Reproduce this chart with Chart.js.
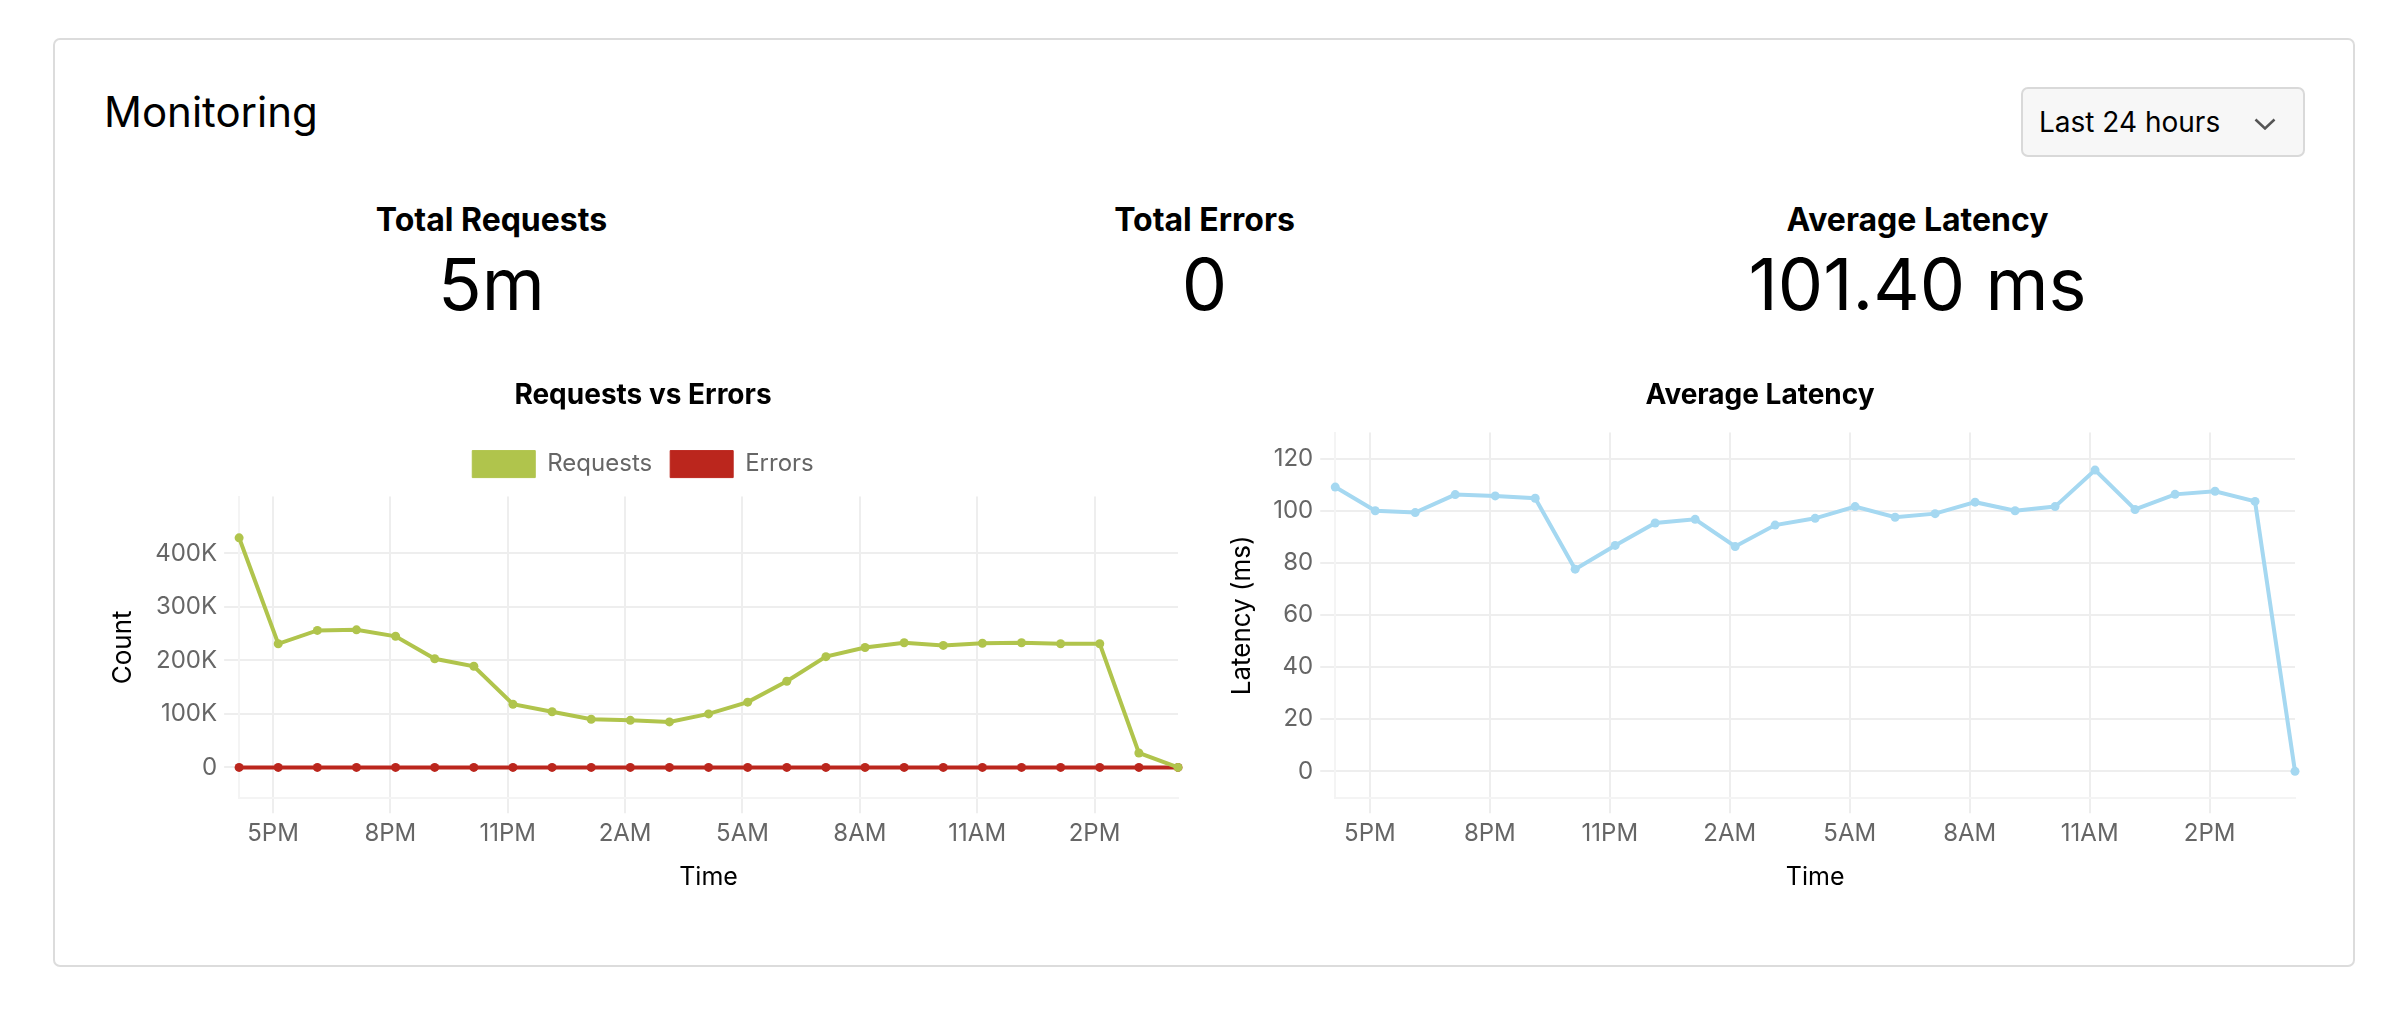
<!DOCTYPE html>
<html>
<head>
<meta charset="utf-8">
<title>Monitoring</title>
<script src="https://cdn.jsdelivr.net/npm/chart.js@4.4.0/dist/chart.umd.min.js"></script>
<style>
  body { margin: 0; width: 2406px; height: 1010px; background: #fff; color: #000;
         font-family: Inter, "Noto Sans", sans-serif; position: relative; overflow: hidden; }
  .card { position: absolute; left: 53px; top: 38px; width: 2302px; height: 929px;
          box-sizing: border-box; border: 2px solid #dcdcdc; border-radius: 7px; }
  h1 { position: absolute; left: 104px; top: 91px; margin: 0; font-size: 42px; font-weight: 400; line-height: 1; }
  .select { position: absolute; left: 2021px; top: 87px; width: 284px; height: 70px; box-sizing: border-box;
            border: 2px solid #d9d9d9; border-radius: 7px; background: #f7f7f7; font-size: 28px;
            display: flex; align-items: center; padding-left: 16px; }
  .select svg { position: absolute; left: 231px; top: 29px; }
  .stat-label, .stat-value { position: absolute; width: 713px; text-align: center; line-height: 1; }
  .stat-label { top: 204px; font-size: 32px; font-weight: 700; }
  .stat-value { top: 248px; font-size: 72px; font-weight: 400; }
  canvas { position: absolute; top: 360px; }
</style>
</head>
<body>
<div class="card"></div>
<h1>Monitoring</h1>
<div class="select">Last 24 hours
  <svg width="22" height="12" viewBox="0 0 22 12"><polyline points="1.5,1.5 11,10.5 20.5,1.5" fill="none" stroke="#555" stroke-width="2.5"/></svg>
</div>

<div class="stat-label" style="left:135px">Total Requests</div>
<div class="stat-value" style="left:135px">5m</div>
<div class="stat-label" style="left:848px">Total Errors</div>
<div class="stat-value" style="left:848px">0</div>
<div class="stat-label" style="left:1561px">Average Latency</div>
<div class="stat-value" style="left:1561px">101.40 ms</div>

<canvas id="reqChart" width="1076" height="540" style="left:108px"></canvas>
<canvas id="latChart" width="1080" height="540" style="left:1225px"></canvas>

<script>
// hourly buckets, 4:08 PM yesterday -> 4:08 PM today
const times = ['16:08','17:08','18:08','19:08','20:08','21:08','22:08','23:08','00:08','01:08',
               '02:08','03:08','04:08','05:08','06:08','07:08','08:08','09:08','10:08','11:08',
               '12:08','13:08','14:08','15:08','16:08'];

const requests = [429000, 231000, 256000, 257000, 245000, 203000, 189000, 118000, 104000, 90000,
                  88000, 85000, 100000, 122000, 161000, 207000, 224000, 233000, 228000, 232000,
                  233000, 231000, 231000, 27000, 0];
const errors = [0, 0, 0, 0, 0, 0, 0, 0, 0, 0, 0, 0, 0, 0, 0, 0, 0, 0, 0, 0, 0, 0, 0, 0, 0];
const latency = [109.1, 100.0, 99.3, 106.2, 105.7, 104.8, 77.6, 86.7, 95.3, 96.7,
                 86.3, 94.5, 97.1, 101.6, 97.5, 98.9, 103.3, 100.0, 101.6, 115.6,
                 100.5, 106.3, 107.5, 103.6, 0];

const tickHours = [17, 20, 23, 26, 29, 32, 35, 38];
const tickLabels = ['5PM', '8PM', '11PM', '2AM', '5AM', '8AM', '11AM', '2PM'];
const countTicks = [0, 100000, 200000, 300000, 400000];
const countLabels = ['0', '100K', '200K', '300K', '400K'];
const latencyTicks = [0, 20, 40, 60, 80, 100, 120];

// turn clock times into hours since midnight of the first day
let dayOffset = 0, prev = -1;
const hours = times.map(t => {
  const [h, m] = t.split(':').map(Number);
  let v = h + m / 60;
  if (v < prev) dayOffset = 24;
  prev = v;
  return v + dayOffset;
});
const pts = arr => arr.map((v, i) => ({ x: hours[i], y: v }));

Chart.defaults.font.family = 'Inter, "Noto Sans", sans-serif';
Chart.defaults.animation = false;

const gridColor = '#eeeeee';
const borderColor = '#f4f4f4';

function xAxis() {
  return {
    type: 'linear',
    min: hours[0],
    max: hours[hours.length - 1],
    afterBuildTicks: s => { s.ticks = tickHours.map(v => ({ value: v })); },
    ticks: { callback: (v, i) => tickLabels[i], color: '#666', font: { size: 24 }, padding: 6,
             maxRotation: 0, autoSkip: false },
    grid: { color: gridColor, lineWidth: 2, tickLength: 15 },
    border: { color: borderColor, width: 2 },
    title: { display: true, text: 'Time', color: '#000', font: { size: 25 }, padding: { top: 8, bottom: 8 } }
  };
}

function yAxis(min, max, ticks, labels, title, pad) {
  return {
    min: min,
    max: max,
    afterBuildTicks: s => { s.ticks = ticks.map(v => ({ value: v })); },
    ticks: { callback: (v, i) => labels[i], color: '#666', font: { size: 24 }, padding: 7 },
    grid: { color: gridColor, lineWidth: 2, tickLength: 15 },
    border: { color: borderColor, width: 2 },
    title: { display: true, text: title, color: '#000', font: { size: 26 }, padding: pad }
  };
}

function chartTitle(text) {
  return { display: true, text: text, color: '#000', font: { size: 28, weight: 'bold' },
           padding: { top: 19, bottom: 20 } };
}

// a little extra room under the legend
const legendGap = {
  id: 'legendGap',
  beforeInit(chart) {
    const fit = chart.legend.fit;
    chart.legend.fit = function () { fit.bind(chart.legend)(); this.height += 9; };
  }
};

new Chart(document.getElementById('reqChart'), {
  type: 'line',
  data: {
    datasets: [{
      label: 'Requests',
      data: pts(requests),
      borderColor: '#b0c44c',
      backgroundColor: '#b0c44c',
      borderWidth: 4,
      pointRadius: 4.5,
      pointBorderWidth: 0,
      tension: 0,
      clip: false
    }, {
      label: 'Errors',
      data: pts(errors),
      borderColor: '#bb261d',
      backgroundColor: '#bb261d',
      borderWidth: 4,
      pointRadius: 4.5,
      pointBorderWidth: 0,
      tension: 0,
      clip: false
    }]
  },
  options: {
    responsive: false,
    layout: { padding: { right: 6 } },
    plugins: {
      title: chartTitle('Requests vs Errors'),
      legend: {
        labels: {
          boxWidth: 63, boxHeight: 27, color: '#666', font: { size: 24 }, padding: 18,
          generateLabels: chart => Chart.defaults.plugins.legend.labels.generateLabels(chart)
            .map(l => Object.assign(l, { lineWidth: 1 }))
        }
      },
      tooltip: { enabled: false }
    },
    scales: {
      x: xAxis(),
      y: yAxis(-57500, 506000, countTicks, countLabels, 'Count', { top: 0, bottom: 9 })
    }
  },
  plugins: [legendGap]
});

new Chart(document.getElementById('latChart'), {
  type: 'line',
  data: {
    datasets: [{
      label: 'Latency',
      data: pts(latency),
      borderColor: '#a5d8f1',
      backgroundColor: '#a5d8f1',
      borderWidth: 4,
      pointRadius: 4.5,
      pointBorderWidth: 0,
      tension: 0,
      clip: false
    }]
  },
  options: {
    responsive: false,
    layout: { padding: { right: 10 } },
    plugins: {
      title: chartTitle('Average Latency'),
      legend: { display: false },
      tooltip: { enabled: false }
    },
    scales: {
      x: xAxis(),
      y: yAxis(-10.3, 130, latencyTicks, latencyTicks.map(String), 'Latency (ms)', { top: 2, bottom: 8 })
    }
  }
});
</script>
</body>
</html>
